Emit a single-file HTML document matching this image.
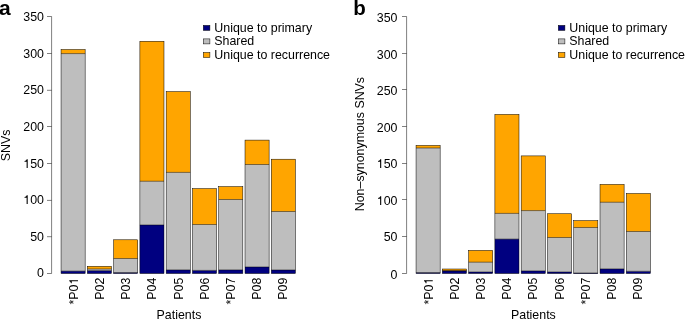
<!DOCTYPE html>
<html><head><meta charset="utf-8"><style>
html,body{margin:0;padding:0;background:#fff;}
body{width:685px;height:320px;overflow:hidden;}
svg{display:block;will-change:transform;}
text{font-family:"Liberation Sans",sans-serif;font-size:12.4px;fill:#000;}
</style></head><body>
<svg width="685" height="320" viewBox="0 0 685 320">
<rect width="685" height="320" fill="#fff"/>
<text x="-1.1" y="14.9" style="font-size:21px;font-weight:bold">a</text>
<line x1="51.6" y1="16.5" x2="51.6" y2="273.5" stroke="#000" stroke-width="0.5"/>
<line x1="47.00" y1="273.50" x2="51.6" y2="273.50" stroke="#000" stroke-width="0.5"/>
<text x="43.95" y="277" text-anchor="end">0</text>
<line x1="47.00" y1="236.70" x2="51.6" y2="236.70" stroke="#000" stroke-width="0.5"/>
<text x="43.95" y="241" text-anchor="end">50</text>
<line x1="47.00" y1="200.40" x2="51.6" y2="200.40" stroke="#000" stroke-width="0.5"/>
<text x="43.95" y="204" text-anchor="end">00</text>
<path transform="translate(23.267,204.000) scale(0.01240,-0.01240)" d="M359 0L271 0L271 505L101 505L101 573C190 583 246 606 278 703L359 703Z" fill="#000"/>
<line x1="47.00" y1="163.50" x2="51.6" y2="163.50" stroke="#000" stroke-width="0.5"/>
<text x="43.95" y="168" text-anchor="end">50</text>
<path transform="translate(23.267,168.000) scale(0.01240,-0.01240)" d="M359 0L271 0L271 505L101 505L101 573C190 583 246 606 278 703L359 703Z" fill="#000"/>
<line x1="47.00" y1="126.50" x2="51.6" y2="126.50" stroke="#000" stroke-width="0.5"/>
<text x="43.95" y="131" text-anchor="end">200</text>
<line x1="47.00" y1="90.30" x2="51.6" y2="90.30" stroke="#000" stroke-width="0.5"/>
<text x="43.95" y="94" text-anchor="end">250</text>
<line x1="47.00" y1="53.50" x2="51.6" y2="53.50" stroke="#000" stroke-width="0.5"/>
<text x="43.95" y="58" text-anchor="end">300</text>
<line x1="47.00" y1="16.50" x2="51.6" y2="16.50" stroke="#000" stroke-width="0.5"/>
<text x="43.95" y="21" text-anchor="end">350</text>
<text transform="translate(10.0,145.30) rotate(-90)" text-anchor="middle">SNVs</text>
<rect x="61.05" y="271.10" width="24.1" height="2.40" fill="#000080"/>
<rect x="61.05" y="53.60" width="24.1" height="217.50" fill="#BEBEBE"/>
<rect x="61.05" y="49.50" width="24.1" height="4.10" fill="#FFA500"/>
<path d="M61.05 53.60h24.1M61.05 271.10h24.1" stroke="#000" stroke-width="0.5" fill="none"/>
<rect x="61.05" y="49.50" width="24.1" height="224.00" fill="none" stroke="#000" stroke-width="0.5"/>
<g transform="translate(78.00,277.7) rotate(-90)"><text x="-6.894" y="0" text-anchor="end">*P0</text><path transform="translate(-6.894,0.000) scale(0.01240,-0.01240)" d="M359 0L271 0L271 505L101 505L101 573C190 583 246 606 278 703L359 703Z" fill="#000"/></g>
<rect x="87.33" y="270.60" width="24.1" height="2.90" fill="#000080"/>
<rect x="87.33" y="269.00" width="24.1" height="1.60" fill="#BEBEBE"/>
<rect x="87.33" y="266.30" width="24.1" height="2.70" fill="#FFA500"/>
<path d="M87.33 269.00h24.1M87.33 270.60h24.1" stroke="#000" stroke-width="0.5" fill="none"/>
<rect x="87.33" y="266.30" width="24.1" height="7.20" fill="none" stroke="#000" stroke-width="0.5"/>
<text transform="translate(104.16,277.7) rotate(-90)" text-anchor="end">P02</text>
<rect x="113.61" y="272.50" width="24.1" height="1.00" fill="#000080"/>
<rect x="113.61" y="258.50" width="24.1" height="14.00" fill="#BEBEBE"/>
<rect x="113.61" y="239.80" width="24.1" height="18.70" fill="#FFA500"/>
<path d="M113.61 258.50h24.1M113.61 272.50h24.1" stroke="#000" stroke-width="0.5" fill="none"/>
<rect x="113.61" y="239.80" width="24.1" height="33.70" fill="none" stroke="#000" stroke-width="0.5"/>
<text transform="translate(130.32,277.7) rotate(-90)" text-anchor="end">P03</text>
<rect x="139.89" y="225.00" width="24.1" height="48.50" fill="#000080"/>
<rect x="139.89" y="181.25" width="24.1" height="43.75" fill="#BEBEBE"/>
<rect x="139.89" y="41.25" width="24.1" height="140.00" fill="#FFA500"/>
<path d="M139.89 181.25h24.1M139.89 225.00h24.1" stroke="#000" stroke-width="0.5" fill="none"/>
<rect x="139.89" y="41.25" width="24.1" height="232.25" fill="none" stroke="#000" stroke-width="0.5"/>
<text transform="translate(156.48,277.7) rotate(-90)" text-anchor="end">P04</text>
<rect x="166.17" y="269.90" width="24.1" height="3.60" fill="#000080"/>
<rect x="166.17" y="172.40" width="24.1" height="97.50" fill="#BEBEBE"/>
<rect x="166.17" y="91.60" width="24.1" height="80.80" fill="#FFA500"/>
<path d="M166.17 172.40h24.1M166.17 269.90h24.1" stroke="#000" stroke-width="0.5" fill="none"/>
<rect x="166.17" y="91.60" width="24.1" height="181.90" fill="none" stroke="#000" stroke-width="0.5"/>
<text transform="translate(182.64,277.7) rotate(-90)" text-anchor="end">P05</text>
<rect x="192.45" y="270.40" width="24.1" height="3.10" fill="#000080"/>
<rect x="192.45" y="224.50" width="24.1" height="45.90" fill="#BEBEBE"/>
<rect x="192.45" y="188.60" width="24.1" height="35.90" fill="#FFA500"/>
<path d="M192.45 224.50h24.1M192.45 270.40h24.1" stroke="#000" stroke-width="0.5" fill="none"/>
<rect x="192.45" y="188.60" width="24.1" height="84.90" fill="none" stroke="#000" stroke-width="0.5"/>
<text transform="translate(208.80,277.7) rotate(-90)" text-anchor="end">P06</text>
<rect x="218.73" y="269.90" width="24.1" height="3.60" fill="#000080"/>
<rect x="218.73" y="199.50" width="24.1" height="70.40" fill="#BEBEBE"/>
<rect x="218.73" y="186.60" width="24.1" height="12.90" fill="#FFA500"/>
<path d="M218.73 199.50h24.1M218.73 269.90h24.1" stroke="#000" stroke-width="0.5" fill="none"/>
<rect x="218.73" y="186.60" width="24.1" height="86.90" fill="none" stroke="#000" stroke-width="0.5"/>
<text transform="translate(234.96,277.7) rotate(-90)" text-anchor="end">*P07</text>
<rect x="245.01" y="267.00" width="24.1" height="6.50" fill="#000080"/>
<rect x="245.01" y="164.50" width="24.1" height="102.50" fill="#BEBEBE"/>
<rect x="245.01" y="140.10" width="24.1" height="24.40" fill="#FFA500"/>
<path d="M245.01 164.50h24.1M245.01 267.00h24.1" stroke="#000" stroke-width="0.5" fill="none"/>
<rect x="245.01" y="140.10" width="24.1" height="133.40" fill="none" stroke="#000" stroke-width="0.5"/>
<text transform="translate(261.12,277.7) rotate(-90)" text-anchor="end">P08</text>
<rect x="271.29" y="270.00" width="24.1" height="3.50" fill="#000080"/>
<rect x="271.29" y="211.50" width="24.1" height="58.50" fill="#BEBEBE"/>
<rect x="271.29" y="159.20" width="24.1" height="52.30" fill="#FFA500"/>
<path d="M271.29 211.50h24.1M271.29 270.00h24.1" stroke="#000" stroke-width="0.5" fill="none"/>
<rect x="271.29" y="159.20" width="24.1" height="114.30" fill="none" stroke="#000" stroke-width="0.5"/>
<text transform="translate(287.28,277.7) rotate(-90)" text-anchor="end">P09</text>
<text x="179.0" y="318.9" text-anchor="middle">Patients</text>
<rect x="203.30" y="25.40" width="6.6" height="5.0" fill="#000080" stroke="#000" stroke-width="0.5"/>
<text x="214.30" y="31.70">Unique to primary</text>
<rect x="203.30" y="38.90" width="6.6" height="5.0" fill="#BEBEBE" stroke="#000" stroke-width="0.5"/>
<text x="214.30" y="45.10">Shared</text>
<rect x="203.30" y="52.50" width="6.6" height="5.0" fill="#FFA500" stroke="#000" stroke-width="0.5"/>
<text x="214.30" y="58.50">Unique to recurrence</text>
<text x="353.2" y="14.9" style="font-size:20.5px;font-weight:bold">b</text>
<line x1="406.6" y1="16.5" x2="406.6" y2="273.5" stroke="#000" stroke-width="0.5"/>
<line x1="402.00" y1="273.50" x2="406.6" y2="273.50" stroke="#000" stroke-width="0.5"/>
<text x="397.45" y="279" text-anchor="end">0</text>
<line x1="402.00" y1="236.50" x2="406.6" y2="236.50" stroke="#000" stroke-width="0.5"/>
<text x="397.45" y="241" text-anchor="end">50</text>
<line x1="402.00" y1="199.50" x2="406.6" y2="199.50" stroke="#000" stroke-width="0.5"/>
<text x="397.45" y="205" text-anchor="end">00</text>
<path transform="translate(376.767,205.000) scale(0.01240,-0.01240)" d="M359 0L271 0L271 505L101 505L101 573C190 583 246 606 278 703L359 703Z" fill="#000"/>
<line x1="402.00" y1="163.50" x2="406.6" y2="163.50" stroke="#000" stroke-width="0.5"/>
<text x="397.45" y="168" text-anchor="end">50</text>
<path transform="translate(376.767,168.000) scale(0.01240,-0.01240)" d="M359 0L271 0L271 505L101 505L101 573C190 583 246 606 278 703L359 703Z" fill="#000"/>
<line x1="402.00" y1="126.50" x2="406.6" y2="126.50" stroke="#000" stroke-width="0.5"/>
<text x="397.45" y="132" text-anchor="end">200</text>
<line x1="402.00" y1="89.50" x2="406.6" y2="89.50" stroke="#000" stroke-width="0.5"/>
<text x="397.45" y="95" text-anchor="end">250</text>
<line x1="402.00" y1="53.50" x2="406.6" y2="53.50" stroke="#000" stroke-width="0.5"/>
<text x="397.45" y="59" text-anchor="end">300</text>
<line x1="402.00" y1="16.50" x2="406.6" y2="16.50" stroke="#000" stroke-width="0.5"/>
<text x="397.45" y="22" text-anchor="end">350</text>
<text transform="translate(364.3,144.10) rotate(-90)" text-anchor="middle">Non–synonymous SNVs</text>
<rect x="416.05" y="272.50" width="24.1" height="1.00" fill="#000080"/>
<rect x="416.05" y="148.00" width="24.1" height="124.50" fill="#BEBEBE"/>
<rect x="416.05" y="145.40" width="24.1" height="2.60" fill="#FFA500"/>
<path d="M416.05 148.00h24.1M416.05 272.50h24.1" stroke="#000" stroke-width="0.5" fill="none"/>
<rect x="416.05" y="145.40" width="24.1" height="128.10" fill="none" stroke="#000" stroke-width="0.5"/>
<g transform="translate(432.75,277.7) rotate(-90)"><text x="-6.894" y="0" text-anchor="end">*P0</text><path transform="translate(-6.894,0.000) scale(0.01240,-0.01240)" d="M359 0L271 0L271 505L101 505L101 573C190 583 246 606 278 703L359 703Z" fill="#000"/></g>
<rect x="442.33" y="270.80" width="24.1" height="2.70" fill="#000080"/>
<rect x="442.33" y="270.80" width="24.1" height="0.00" fill="#BEBEBE"/>
<rect x="442.33" y="269.00" width="24.1" height="1.80" fill="#FFA500"/>
<path d="M442.33 270.80h24.1M442.33 270.80h24.1" stroke="#000" stroke-width="0.5" fill="none"/>
<rect x="442.33" y="269.00" width="24.1" height="4.50" fill="none" stroke="#000" stroke-width="0.5"/>
<text transform="translate(458.91,277.7) rotate(-90)" text-anchor="end">P02</text>
<rect x="468.61" y="272.00" width="24.1" height="1.50" fill="#000080"/>
<rect x="468.61" y="262.20" width="24.1" height="9.80" fill="#BEBEBE"/>
<rect x="468.61" y="250.40" width="24.1" height="11.80" fill="#FFA500"/>
<path d="M468.61 262.20h24.1M468.61 272.00h24.1" stroke="#000" stroke-width="0.5" fill="none"/>
<rect x="468.61" y="250.40" width="24.1" height="23.10" fill="none" stroke="#000" stroke-width="0.5"/>
<text transform="translate(485.07,277.7) rotate(-90)" text-anchor="end">P03</text>
<rect x="494.89" y="239.10" width="24.1" height="34.40" fill="#000080"/>
<rect x="494.89" y="213.40" width="24.1" height="25.70" fill="#BEBEBE"/>
<rect x="494.89" y="114.40" width="24.1" height="99.00" fill="#FFA500"/>
<path d="M494.89 213.40h24.1M494.89 239.10h24.1" stroke="#000" stroke-width="0.5" fill="none"/>
<rect x="494.89" y="114.40" width="24.1" height="159.10" fill="none" stroke="#000" stroke-width="0.5"/>
<text transform="translate(511.23,277.7) rotate(-90)" text-anchor="end">P04</text>
<rect x="521.17" y="270.90" width="24.1" height="2.60" fill="#000080"/>
<rect x="521.17" y="210.60" width="24.1" height="60.30" fill="#BEBEBE"/>
<rect x="521.17" y="155.90" width="24.1" height="54.70" fill="#FFA500"/>
<path d="M521.17 210.60h24.1M521.17 270.90h24.1" stroke="#000" stroke-width="0.5" fill="none"/>
<rect x="521.17" y="155.90" width="24.1" height="117.60" fill="none" stroke="#000" stroke-width="0.5"/>
<text transform="translate(537.39,277.7) rotate(-90)" text-anchor="end">P05</text>
<rect x="547.45" y="272.00" width="24.1" height="1.50" fill="#000080"/>
<rect x="547.45" y="237.50" width="24.1" height="34.50" fill="#BEBEBE"/>
<rect x="547.45" y="213.75" width="24.1" height="23.75" fill="#FFA500"/>
<path d="M547.45 237.50h24.1M547.45 272.00h24.1" stroke="#000" stroke-width="0.5" fill="none"/>
<rect x="547.45" y="213.75" width="24.1" height="59.75" fill="none" stroke="#000" stroke-width="0.5"/>
<text transform="translate(563.55,277.7) rotate(-90)" text-anchor="end">P06</text>
<rect x="573.73" y="273.00" width="24.1" height="0.50" fill="#000080"/>
<rect x="573.73" y="227.50" width="24.1" height="45.50" fill="#BEBEBE"/>
<rect x="573.73" y="220.60" width="24.1" height="6.90" fill="#FFA500"/>
<path d="M573.73 227.50h24.1M573.73 273.00h24.1" stroke="#000" stroke-width="0.5" fill="none"/>
<rect x="573.73" y="220.60" width="24.1" height="52.90" fill="none" stroke="#000" stroke-width="0.5"/>
<text transform="translate(589.71,277.7) rotate(-90)" text-anchor="end">*P07</text>
<rect x="600.01" y="268.90" width="24.1" height="4.60" fill="#000080"/>
<rect x="600.01" y="202.25" width="24.1" height="66.65" fill="#BEBEBE"/>
<rect x="600.01" y="184.40" width="24.1" height="17.85" fill="#FFA500"/>
<path d="M600.01 202.25h24.1M600.01 268.90h24.1" stroke="#000" stroke-width="0.5" fill="none"/>
<rect x="600.01" y="184.40" width="24.1" height="89.10" fill="none" stroke="#000" stroke-width="0.5"/>
<text transform="translate(615.87,277.7) rotate(-90)" text-anchor="end">P08</text>
<rect x="626.29" y="271.30" width="24.1" height="2.20" fill="#000080"/>
<rect x="626.29" y="231.50" width="24.1" height="39.80" fill="#BEBEBE"/>
<rect x="626.29" y="193.50" width="24.1" height="38.00" fill="#FFA500"/>
<path d="M626.29 231.50h24.1M626.29 271.30h24.1" stroke="#000" stroke-width="0.5" fill="none"/>
<rect x="626.29" y="193.50" width="24.1" height="80.00" fill="none" stroke="#000" stroke-width="0.5"/>
<text transform="translate(642.03,277.7) rotate(-90)" text-anchor="end">P09</text>
<text x="533.4" y="318.9" text-anchor="middle">Patients</text>
<rect x="558.30" y="25.40" width="6.6" height="5.0" fill="#000080" stroke="#000" stroke-width="0.5"/>
<text x="569.30" y="31.70">Unique to primary</text>
<rect x="558.30" y="38.90" width="6.6" height="5.0" fill="#BEBEBE" stroke="#000" stroke-width="0.5"/>
<text x="569.30" y="45.10">Shared</text>
<rect x="558.30" y="52.50" width="6.6" height="5.0" fill="#FFA500" stroke="#000" stroke-width="0.5"/>
<text x="569.30" y="58.50">Unique to recurrence</text>
</svg>
</body></html>
